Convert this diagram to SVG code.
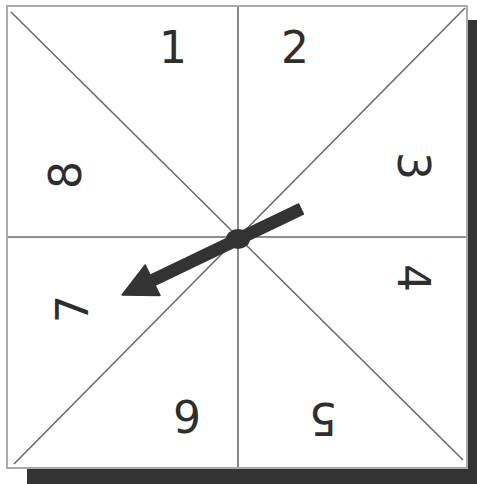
<svg xmlns="http://www.w3.org/2000/svg" width="477" height="484" viewBox="0 0 477 484">
<style>
.line{stroke:#6a6a6a;stroke-width:1.6;fill:none}
.num{font-family:"DejaVu Sans",sans-serif;font-size:44px;fill:#2e2e2e;text-anchor:middle;dominant-baseline:central}
</style>
<rect width="477" height="484" fill="#fff"/>
<g id="shadow"><rect x="27" y="20" width="450" height="464" fill="#333"/></g>
<g id="board"><rect x="7" y="6" width="460" height="462" fill="#fff" stroke="#aaa" stroke-width="2"/></g>
<g id="connectors">
<line class="line" x1="238" y1="7" x2="238" y2="467"/>
<line class="line" x1="8" y1="237" x2="466" y2="237"/>
<line class="line" x1="11" y1="12" x2="463" y2="460"/>
<line class="line" x1="465" y1="8" x2="14" y2="464"/>
</g>
<g id="n1"><text class="num" x="173" y="47">1</text></g>
<g id="n2"><text class="num" x="295" y="47">2</text></g>
<g id="n3"><text class="num" transform="translate(413,166) rotate(90)">3</text></g>
<g id="n4"><text class="num" transform="translate(413,278) rotate(90)">4</text></g>
<g id="n5"><text class="num" transform="translate(323,418) rotate(180)">5</text></g>
<g id="n6"><text class="num" transform="translate(187,415) rotate(180)">6</text></g>
<g id="n7"><text class="num" transform="translate(72,309) rotate(-90)">7</text></g>
<g id="n8"><text class="num" transform="translate(65,175) rotate(-90)">8</text></g>
<g id="spinner">
<polygon points="298.6,204 150.2,275.3 145.2,265 122,295 160,295.6 155,285.3 303.4,214" fill="#333" stroke="#333" stroke-width="1.5" stroke-linejoin="round"/>
<ellipse cx="238" cy="239" rx="12" ry="10" fill="#333"/>
</g>
</svg>
